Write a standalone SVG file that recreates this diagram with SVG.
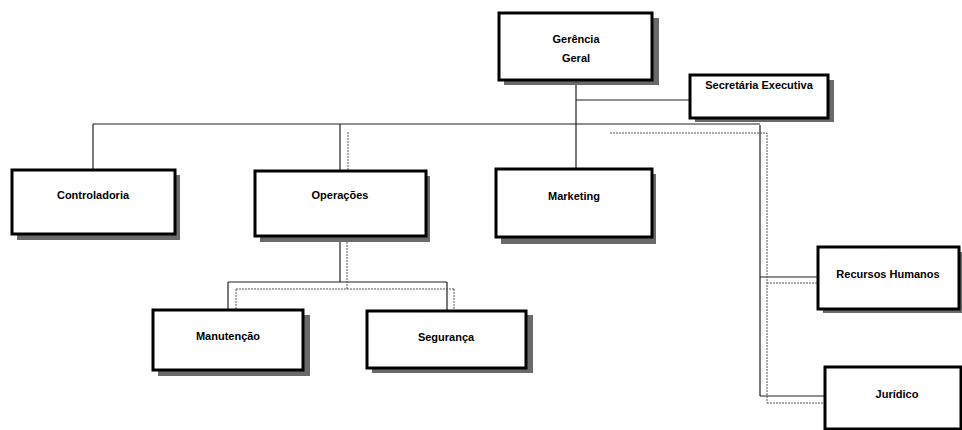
<svg xmlns="http://www.w3.org/2000/svg" width="962" height="430" viewBox="0 0 962 430">
<defs>
<style>
.box{fill:#fff;stroke:#000;stroke-width:3}
.sh{fill:#6a6a6a}
.t{font-family:"Liberation Sans",Arial,sans-serif;font-weight:bold;font-size:11px;fill:#000;text-anchor:middle}
.c{fill:none;stroke:#222;stroke-width:1.2}
.d{fill:none;stroke:#555;stroke-width:1;stroke-dasharray:2 1}
</style>
</defs>
<rect width="962" height="430" fill="#fff"/>
<g id="connectors">
<path class="c" d="M576 80V125M576 100H690M93 124H760M93 124V170M340 124V170M576 125V169M760 125V396M760 277H818M760 396H825"/>
<path class="d" d="M348 132V170M610 133H767V403M767 283H825M767 403H825"/>
<path class="c" d="M340 236V282M228 282H447M228 282V310M447 282V310"/>
<path class="d" d="M347 236V289M236 289H454M236 289V310M454 289V310"/>
</g>
<g id="gerencia">
<rect class="sh" x="504" y="18" width="155" height="67"/>
<rect class="box" x="499" y="13" width="153" height="67"/>
<text class="t" x="576" y="43">Gerência</text>
<text class="t" x="576" y="62">Geral</text>
</g>
<g id="secretaria">
<rect class="sh" x="695" y="80" width="139" height="42"/>
<rect class="box" x="690" y="75" width="138" height="43"/>
<text class="t" x="759" y="89">Secretária Executiva</text>
</g>
<g id="controladoria">
<rect class="sh" x="17" y="175" width="163" height="65"/>
<rect class="box" x="12" y="170" width="163" height="64"/>
<text class="t" x="93" y="199">Controladoria</text>
</g>
<g id="operacoes">
<rect class="sh" x="260" y="176" width="170" height="66"/>
<rect class="box" x="255" y="171" width="171" height="65"/>
<text class="t" x="340" y="199">Operações</text>
</g>
<g id="marketing">
<rect class="sh" x="501" y="174" width="155" height="70"/>
<rect class="box" x="496" y="169" width="156" height="68"/>
<text class="t" x="574" y="200">Marketing</text>
</g>
<g id="manutencao">
<rect class="sh" x="158" y="315" width="152" height="61"/>
<rect class="box" x="153" y="310" width="150" height="60"/>
<text class="t" x="228" y="340">Manutenção</text>
</g>
<g id="seguranca">
<rect class="sh" x="372" y="315" width="161" height="58"/>
<rect class="box" x="367" y="311" width="159" height="57"/>
<text class="t" x="446" y="341">Segurança</text>
</g>
<g id="rh">
<rect class="sh" x="823" y="252" width="145" height="61"/>
<rect class="box" x="818" y="247" width="141" height="62"/>
<text class="t" x="888" y="278">Recursos Humanos</text>
</g>
<g id="juridico">
<rect class="sh" x="830" y="372" width="140" height="66"/>
<rect class="box" x="825" y="367" width="136" height="62"/>
<text class="t" x="897" y="398">Jurídico</text>
</g>
</svg>
